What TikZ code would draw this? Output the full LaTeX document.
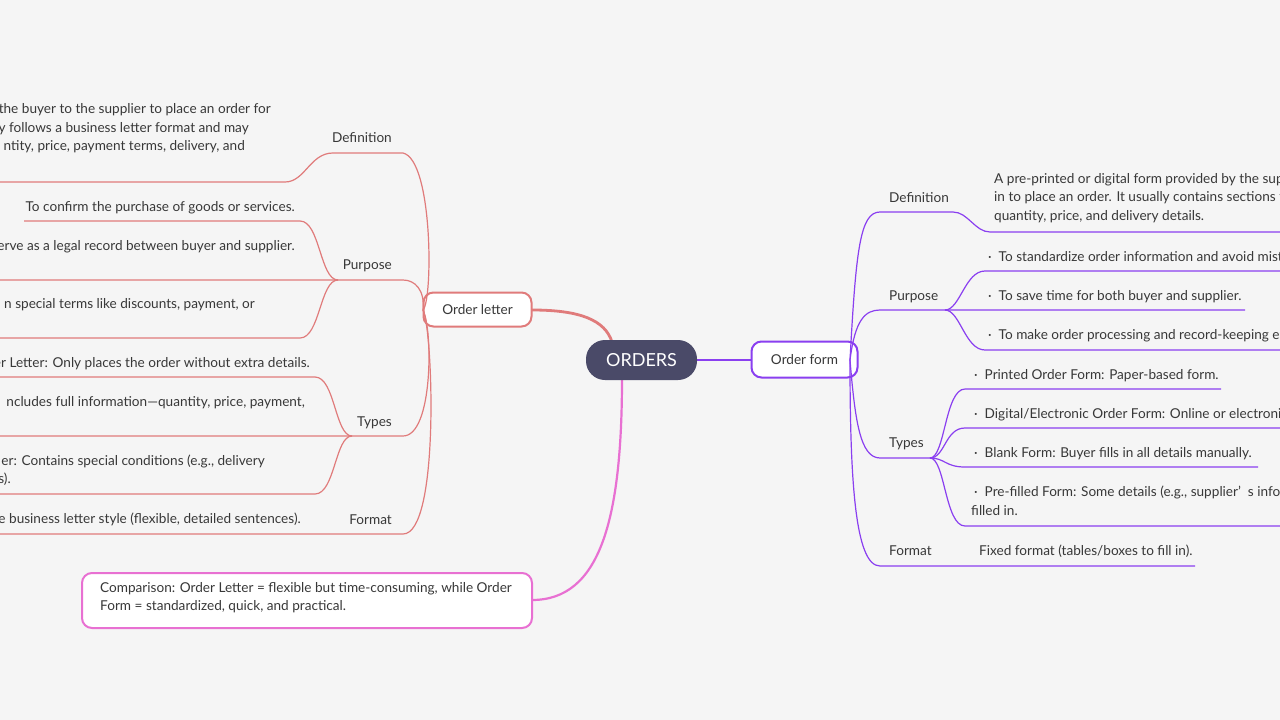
\documentclass[tikz,border=0pt]{standalone}
\usepackage{fontspec}
\setmainfont{Lato}
\begin{document}
\begin{tikzpicture}[x=1pt,y=-1pt,
  txt/.style={inner sep=0pt,font=\fontsize{13.6}{15}\selectfont,text=black!78}]
\definecolor{rc}{HTML}{E07B7B}\definecolor{pc}{HTML}{8A3FF0}\definecolor{kc}{HTML}{E870D2}\definecolor{rootc}{HTML}{4A4A68}
\tikzset{rline/.style={draw=rc,line width=1.2pt},pline/.style={draw=pc,line width=1.2pt}}
\fill[black!4] (0,0) rectangle (1280,720);
\useasboundingbox (0,0) rectangle (1280,720);
\clip (0,0) rectangle (1280,720);
% main connections
\draw[draw=rc,line width=2.8pt] (532,310) .. controls (580,310) and (605,320) .. (612,342);
\draw[draw=pc,line width=2.8pt] (697,360) -- (752,360);
\draw[draw=kc,line width=2.2pt] (622,378) .. controls (622,520) and (600,600) .. (532,600);
\node[fill=rootc,rounded corners=19pt,minimum width=111pt,minimum height=40pt,text=white,font=\fontsize{18}{20}\selectfont,inner sep=0pt] (root) at (641.5,360) {ORDERS};
\node[draw=rc,line width=2pt,fill=white,rounded corners=10pt,minimum width=108pt,minimum height=34pt,txt] (ol) at (477.5,309.5) {Order letter};
\node[draw=pc,line width=2pt,fill=white,rounded corners=10pt,minimum width=106pt,minimum height=36pt,txt] (of) at (804.5,359.5) {Order form};
\node[draw=kc,line width=2pt,fill=white,rounded corners=10pt,minimum width=450pt,minimum height=55pt,inner sep=0pt] (cmp) at (307,600.5) {};
\node[txt,anchor=north west,align=left,font=\fontsize{13.6}{18.5}\selectfont] at (100,582) {Comparison: Order Letter = flexible but time-consuming, while Order\\Form = standardized, quick, and practical.};
% ---------- left side
\coordinate (lt) at (423,310);
\draw[rline] (lt) .. controls (433,300) and (433,160) .. (403,153) -- (333,153) .. controls (310,153) and (305,182) .. (285,182) -- (0,182);
\draw[rline] (lt) .. controls (425,290) and (415,280) .. (403,280) -- (338,280) -- (0,280);
\draw[rline] (338,280) .. controls (320,280) and (320,221) .. (300,221) -- (24,221);
\draw[rline] (338,280) .. controls (320,280) and (320,338) .. (300,338) -- (0,338);
\draw[rline] (lt) .. controls (433,330) and (433,436) .. (403,436) -- (0,436);
\draw[rline] (352,436) .. controls (335,436) and (335,377) .. (315,377) -- (0,377);
\draw[rline] (352,436) .. controls (335,436) and (335,494) .. (315,494) -- (0,494);
\draw[rline] (lt) .. controls (433,330) and (440,534) .. (403,534) -- (0,534);
\node[txt,anchor=base east] at (392,142) {Definition};
\node[txt,anchor=base east] at (392,269) {Purpose};
\node[txt,anchor=base east] at (392,426) {Types};
\node[txt,anchor=base east] at (392,524) {Format};
\node[txt,anchor=base east] at (271,113) {the buyer to the supplier to place an order for};
\node[txt,anchor=base east] at (249,132) {y follows a business letter format and may};
\node[txt,anchor=base east] at (245,150) {ntity, price, payment terms, delivery, and};
\node[txt,anchor=base east] at (295,211) {To confirm the purchase of goods or services.};
\node[txt,anchor=base east] at (295,250) {erve as a legal record between buyer and supplier.};
\node[txt,anchor=base east] at (255,308) {n special terms like discounts, payment, or};
\node[txt,anchor=base east] at (310,367) {er Letter: Only places the order without extra details.};
\node[txt,anchor=base east] at (305,406) {ncludes full information—quantity, price, payment,};
\node[txt,anchor=base east] at (265,465) {er: Contains special conditions (e.g., delivery};
\node[txt,anchor=base east] at (11,483) {s).};
\node[txt,anchor=base east] at (301,523) {e business letter style (flexible, detailed sentences).};
% ---------- right side
\coordinate (rt) at (850,360);
\draw[pline] (rt) .. controls (856,250) and (860,212) .. (880,212) -- (953,212) .. controls (968,212) and (975,232) .. (990,232) -- (1280,232);
\draw[pline] (rt) .. controls (855,320) and (865,310) .. (880,310) -- (1245,310);
\draw[pline] (945,310) .. controls (960,310) and (965,271) .. (985,271) -- (1280,271);
\draw[pline] (945,310) .. controls (960,310) and (965,350) .. (985,350) -- (1280,350);
\draw[pline] (rt) .. controls (855,420) and (860,458) .. (880,458) -- (930,458);
\draw[pline] (930,458) .. controls (945,458) and (945,389) .. (965,389) -- (1221,389);
\draw[pline] (930,458) .. controls (945,458) and (945,428) .. (965,428) -- (1280,428);
\draw[pline] (930,458) .. controls (945,458) and (945,467) .. (965,467) -- (1258,467);
\draw[pline] (930,458) .. controls (945,458) and (945,526) .. (965,526) -- (1280,526);
\draw[pline] (rt) .. controls (850,480) and (855,566) .. (880,566) -- (1195,566);
\node[txt,anchor=base west] at (889,202) {Definition};
\node[txt,anchor=base west] at (889,300) {Purpose};
\node[txt,anchor=base west] at (889,447) {Types};
\node[txt,anchor=base west] at (889,555) {Format};
\node[txt,anchor=base west] at (994,183) {A pre-printed or digital form provided by the supplier};
\node[txt,anchor=base west] at (994,201) {in to place an order. It usually contains sections for};
\node[txt,anchor=base west] at (994,220) {quantity, price, and delivery details.};
\node[txt,anchor=base west] at (988,261) {·\ \ To standardize order information and avoid mistakes.};
\node[txt,anchor=base west] at (988,300) {·\ \ To save time for both buyer and supplier.};
\node[txt,anchor=base west] at (988,339) {·\ \ To make order processing and record-keeping easier.};
\node[txt,anchor=base west] at (974,379) {·\ \ Printed Order Form: Paper-based form.};
\node[txt,anchor=base west] at (974,418) {·\ \ Digital/Electronic Order Form: Online or electronic};
\node[txt,anchor=base west] at (974,457) {·\ \ Blank Form: Buyer fills in all details manually.};
\node[txt,anchor=base west] at (974,496) {·\ \ Pre-filled Form: Some details (e.g., supplier’\ \ s info};
\node[txt,anchor=base west] at (971,515) {filled in.};
\node[txt,anchor=base west] at (979,555) {Fixed format (tables/boxes to fill in).};
\end{tikzpicture}
\end{document}
